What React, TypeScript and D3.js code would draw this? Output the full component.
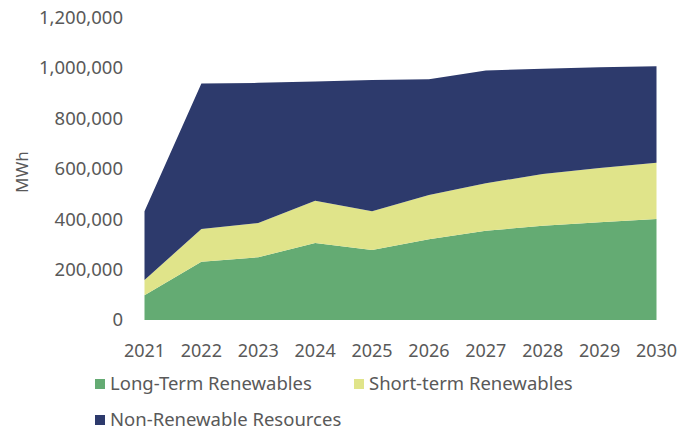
import React from "react";
import * as d3 from "d3";

const years = ["2021", "2022", "2023", "2024", "2025", "2026", "2027", "2028", "2029", "2030"];
const longTerm = [98000, 231000, 249000, 306000, 278000, 320000, 354000, 374000, 388000, 401000];
const shortTerm = [61000, 130000, 136000, 167000, 154000, 176000, 189000, 205000, 215000, 223000];
const nonRenewable = [273000, 577000, 556000, 473000, 520000, 459000, 447000, 418000, 400000, 383000];
const yTicks = [0, 200000, 400000, 600000, 800000, 1000000, 1200000];
const seriesNames = ["Long-Term Renewables", "Short-term Renewables", "Non-Renewable Resources"];
const seriesKeys = ["long", "short", "non"];
const colors = ["#64ab73", "#e0e48a", "#2d3a6c"];

const W = 683;
const H = 432;
const FONT = "'Noto Sans', sans-serif";
const TEXT = "#595959";

export default function App() {
  const x = d3.scalePoint<string>().domain(years).range([144.5, 656.5]);
  const y = d3.scaleLinear().domain([0, 1200000]).range([320, 17.6]);

  const rows = years.map((yr, i) => ({
    year: yr,
    long: longTerm[i],
    short: shortTerm[i],
    non: nonRenewable[i],
  }));
  const stacked = d3.stack<any>().keys(seriesKeys)(rows);
  const area = d3
    .area<any>()
    .x((d) => x(d.data.year) as number)
    .y0((d) => y(d[0]))
    .y1((d) => y(d[1]))
    .curve(d3.curveLinear);

  const fmt = d3.format(",");

  return (
    <svg
      width={W}
      height={H}
      style={{ position: "absolute", left: 0, top: 0, background: "#fff" }}
      fontFamily={FONT}
    >
      <rect x={0} y={0} width={W} height={H} fill="#fff" />
      {stacked.map((s, i) => (
        <path key={s.key} d={area(s) || ""} fill={colors[i]} />
      ))}
      {yTicks.map((t) => (
        <text
          key={t}
          x={123}
          y={y(t)}
          dy="0.35em"
          textAnchor="end"
          fontSize={18.5}
          fill={TEXT}
        >
          {fmt(t)}
        </text>
      ))}
      {years.map((yr) => (
        <text
          key={yr}
          x={x(yr) as number}
          y={351}
          dy="0.35em"
          textAnchor="middle"
          fontSize={18}
          fill={TEXT}
        >
          {yr}
        </text>
      ))}
      <text
        transform={`translate(22,172) rotate(-90)`}
        textAnchor="middle"
        dy="0.35em"
        fontSize={17}
        fill={TEXT}
      >
        MWh
      </text>
      {[
        { i: 0, lx: 95, ly: 384 },
        { i: 1, lx: 354, ly: 384 },
        { i: 2, lx: 95, ly: 420 },
      ].map(({ i, lx, ly }) => (
        <g key={i}>
          <rect x={lx} y={ly - 5} width={10} height={10} fill={colors[i]} />
          <text x={lx + 15} y={ly} dy="0.35em" fontSize={18.5} fill={TEXT}>
            {seriesNames[i]}
          </text>
        </g>
      ))}
    </svg>
  );
}
